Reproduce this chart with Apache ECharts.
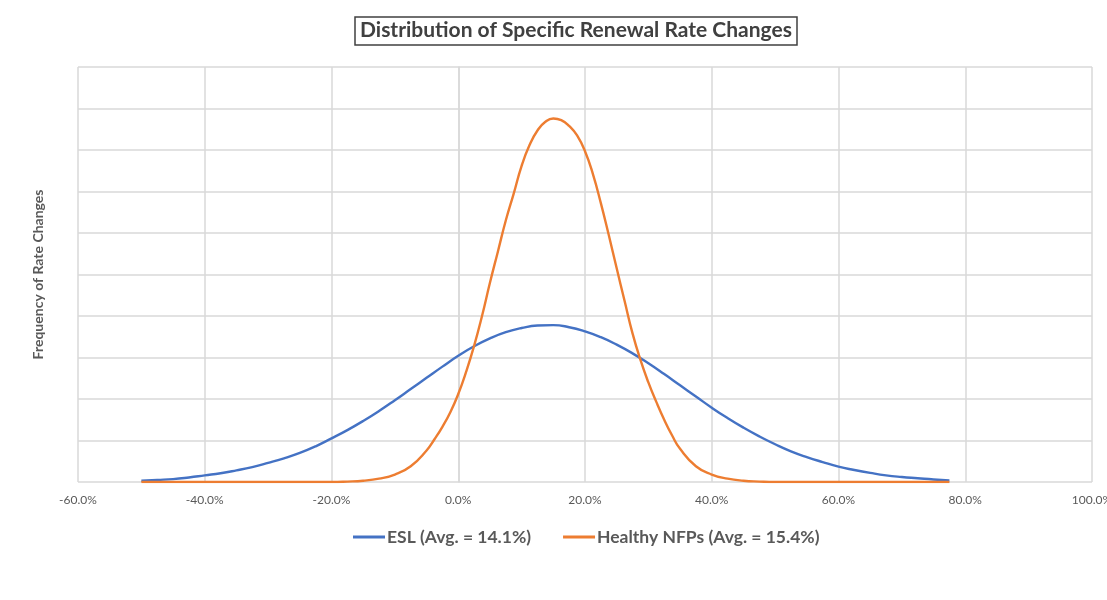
<!DOCTYPE html>
<html>
<head>
<meta charset="utf-8">
<title>Distribution of Specific Renewal Rate Changes</title>
<script src="https://cdn.jsdelivr.net/npm/echarts@6/dist/echarts.min.js"></script>
<style>
  html, body { margin: 0; padding: 0; background: #fff; }
  #grafico { width: 1107px; height: 600px; }
</style>
</head>
<body>
<div id="grafico"></div>
<script>
// Cambio de tasa (%) en el eje X para la curva ESL
const eslRate = [
  -50, -47.5, -45, -42.5, -40, -37.5, -35, -32.5, -30, -27.5, -25, -22.5, -20, -17.5, -15, -12.5,
  -10, -7.5, -5, -2.5, 0, 2.5, 5, 7.5, 10, 12.5, 15, 17.5, 20, 22.5, 25, 27.5,
  30, 32.5, 35, 37.5, 40, 42.5, 45, 47.5, 50, 52.5, 55, 57.5, 60, 62.5, 65, 67.5,
  70, 72.5, 75, 77.5
];

// Frecuencia (unidades de cuadrícula, el eje Y no tiene etiquetas)
const eslFreq = [
  0.03, 0.05, 0.07, 0.11, 0.16, 0.21, 0.28, 0.36, 0.46, 0.57, 0.70, 0.86, 1.05, 1.25, 1.47, 1.71,
  1.97, 2.24, 2.51, 2.78, 3.04, 3.27, 3.46, 3.61, 3.71, 3.77, 3.78, 3.73, 3.63, 3.49, 3.31, 3.10,
  2.86, 2.60, 2.33, 2.06, 1.79, 1.54, 1.31, 1.10, 0.91, 0.74, 0.60, 0.48, 0.37, 0.29, 0.22, 0.16,
  0.12, 0.09, 0.06, 0.04
];

// Curva NFP: puntos más densos en la parte empinada y el pico
const nfpRate = [
  -50, -20, -17.5, -15, -12.5, -10, -7.5, -5, -3.75, -2.5, -1.25, 0, 1.25, 2.5, 3.75, 5,
  6.25, 7.5, 8.75, 10, 11.25, 12.5, 13.75, 15, 16.25, 17.5, 18.75, 20, 21.25, 22.5, 23.75, 25,
  26.25, 27.5, 28.75, 30, 31.25, 32.5, 33.75, 35, 37.5, 40, 42.5, 45, 47.5, 50, 77.5
];

const nfpFreq = [
  0, 0, 0.01, 0.03, 0.08, 0.18, 0.38, 0.76, 1.03, 1.33, 1.68, 2.12, 2.66, 3.28, 4.00, 4.80,
  5.55, 6.30, 6.95, 7.62, 8.12, 8.47, 8.68, 8.76, 8.72, 8.58, 8.35, 7.97, 7.42, 6.72, 5.95, 5.15,
  4.36, 3.58, 2.94, 2.40, 1.93, 1.50, 1.12, 0.80, 0.38, 0.18, 0.08, 0.03, 0.01, 0, 0
];

const seriesNames = ['ESL (Avg. = 14.1%)', 'Healthy NFPs (Avg. = 15.4%)'];
const xTicks = { min: -60, max: 100, step: 20 };

const toPairs = (xs, ys) => xs.map((x, i) => [x, ys[i]]);

const initChart = () => {
    const chart = echarts.init(document.getElementById('grafico'));
    const fontFamily = 'Lato, "Open Sans", sans-serif';

    chart.setOption({
        backgroundColor: '#ffffff',
        animation: false,
        title: {
            text: 'Distribution of Specific Renewal Rate Changes',
            left: 355,
            top: 17,
            padding: [3, 5, 4, 5],
            borderColor: '#404040',
            borderWidth: 1.5,
            textStyle: { fontFamily, fontSize: 21, fontWeight: 'bold', color: '#404040' }
        },
        legend: {
            top: 523,
            left: 348,
            itemGap: 32,
            itemWidth: 32,
            itemHeight: 3,
            icon: 'rect',
            textStyle: { fontFamily, fontSize: 17.5, fontWeight: 'bold', color: '#595959', padding: [0, 0, 0, -3] },
            data: seriesNames
        },
        grid: { left: 78, right: 15, top: 67, bottom: 118, containLabel: false, outerBoundsMode: 'none' },
        xAxis: {
            type: 'value',
            min: xTicks.min,
            max: xTicks.max,
            interval: xTicks.step,
            axisLine: { show: false },
            axisTick: { show: false },
            axisLabel: {
                margin: 12,
                fontFamily,
                fontSize: 12,
                color: '#595959',
                formatter: v => v.toFixed(1) + '%'
            },
            splitLine: { show: true, lineStyle: { color: '#d9d9d9', width: 1.5 } }
        },
        yAxis: {
            type: 'value',
            min: 0,
            max: 10,
            interval: 1,
            name: 'Frequency of Rate Changes',
            nameLocation: 'middle',
            nameGap: 33,
            nameTextStyle: { fontFamily, fontSize: 14, fontWeight: 'bold', color: '#595959' },
            axisLine: { show: true, lineStyle: { color: '#d9d9d9', width: 1.5 } },
            axisTick: { show: false },
            axisLabel: { show: false },
            splitLine: { show: true, lineStyle: { color: '#d9d9d9', width: 1.5 } }
        },
        series: [
            {
                name: seriesNames[0],
                type: 'line',
                smooth: 0.5,
                showSymbol: false,
                color: '#4472C4',
                lineStyle: { width: 2.4, color: '#4472C4' },
                data: toPairs(eslRate, eslFreq)
            },
            {
                name: seriesNames[1],
                type: 'line',
                smooth: 0.5,
                showSymbol: false,
                color: '#ED7D31',
                lineStyle: { width: 2.4, color: '#ED7D31' },
                data: toPairs(nfpRate, nfpFreq)
            }
        ]
    });
};

window.addEventListener('load', initChart);
</script>
</body>
</html>
